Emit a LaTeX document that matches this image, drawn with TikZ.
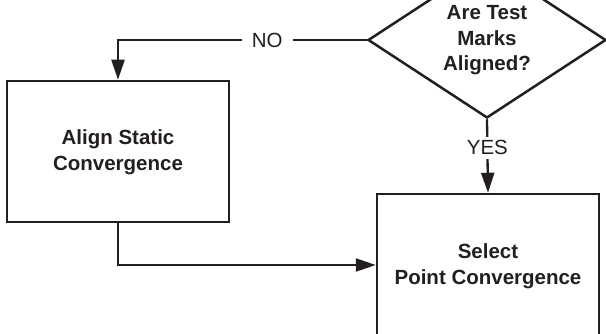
\documentclass[tikz,border=0pt]{standalone}
\usepackage{fontspec}
\setmainfont{Liberation Sans}
\usetikzlibrary{shapes.geometric,arrows.meta}
\definecolor{ink}{HTML}{231F20}
\tikzset{
  every picture/.style={x=1pt,y=-1pt},
  line/.style={draw=ink,line width=2.3pt},
  arr/.style={line,-{Triangle[length=20pt,width=13pt]}},
  box/.style={draw=ink,line width=2.5pt,rectangle,inner sep=0pt},
  btext/.style={text=ink,align=center,font=\fontsize{20.5}{25.5}\selectfont\bfseries},
  lbl/.style={text=ink,fill=white,inner xsep=10pt,inner ysep=4pt,font=\fontsize{20.5}{24}\selectfont}
}
\begin{document}
\begin{tikzpicture}
\clip (0,0) rectangle (606,334);
\node[diamond,draw=ink,line width=2.5pt,minimum width=238pt,minimum height=156pt,inner sep=0pt] (d) at (487,40) {};
\node[btext] (dt) at (487,40.5) {Are Test\\Marks\\Aligned?};
\node[box,minimum width=222pt,minimum height=141pt] (lb) at (118,151.5) {};
\node[btext] (lbt) at (118,152) {Align Static\\Convergence};
\node[box,minimum width=222pt,minimum height=142pt] (rb) at (488,265) {};
\node[btext] (rbt) at (488,266) {Select\\Point Convergence};
\draw[arr] (d.west) -| node[lbl,pos=0.2] {NO} (lb.north);
\draw[arr] (d.south) -- node[lbl,pos=0.39] {YES} (rb.north);
\draw[arr] (lb.south) |- (rb.west);
\end{tikzpicture}
\end{document}
